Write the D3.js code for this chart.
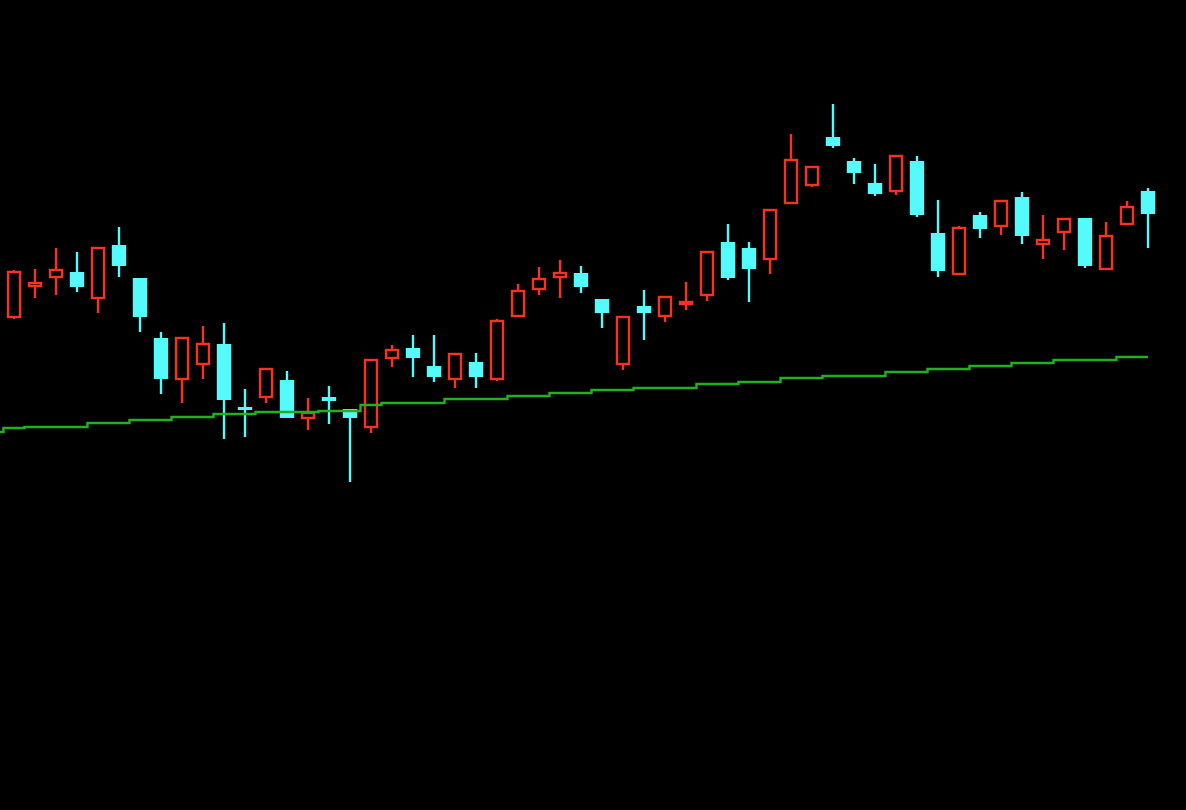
<!DOCTYPE html>
<html>
<head>
<meta charset="utf-8">
<script src="https://cdn.jsdelivr.net/npm/d3@7"></script>
<style>
html,body{margin:0;padding:0;background:#000;}
svg{display:block;}
</style>
</head>
<body>
<svg id="chart" width="1186" height="810"></svg>
<script>
// Candle data (index-based sessions)
const opens  = [14.15,15.70,16.15,16.40,15.10,17.75,16.10,13.10,11.05,11.80,12.80,9.65,10.15,11.00,9.10,10.15,9.55,8.65,12.10,12.60,11.70,11.05,11.90,11.05,14.20,15.55,16.15,16.35,15.05,11.80,14.70,14.20,14.80,15.25,17.90,17.60,17.05,19.85,20.75,23.15,21.95,20.85,20.45,21.95,18.35,16.30,19.25,18.70,20.15,17.80,18.40,19.10,16.55,18.80,20.45];
const highs  = [16.50,16.55,17.60,17.40,17.60,18.65,16.10,13.40,13.10,13.70,13.85,10.55,11.55,11.45,10.10,10.70,9.55,12.00,12.75,13.25,13.25,12.30,12.35,14.05,15.80,16.65,17.00,16.70,15.05,14.15,15.50,15.15,15.90,17.40,18.80,17.90,19.50,23.30,21.70,24.80,22.10,21.80,22.20,22.20,20.00,18.70,19.40,19.95,20.40,19.25,19.05,19.10,18.90,19.95,20.60];
const lows   = [14.05,15.10,15.25,15.40,14.35,16.15,13.40,10.30,9.85,11.05,8.05,8.15,9.85,9.10,8.50,8.80,5.90,8.35,11.65,11.15,10.90,10.60,10.60,10.95,14.20,15.25,15.10,15.35,13.60,11.50,13.00,13.90,14.50,14.95,16.00,14.90,16.30,19.80,20.65,22.60,20.80,20.20,20.25,19.15,16.15,16.30,18.10,18.25,17.80,17.05,17.50,16.60,16.55,18.75,17.60];
const closes = [16.40,15.85,16.50,15.65,17.60,16.70,14.15,11.05,13.10,12.80,10.00,9.50,11.55,9.10,9.35,9.95,9.10,12.00,12.50,12.10,11.15,12.30,11.15,13.95,15.45,16.05,16.35,15.65,14.35,14.15,14.35,15.15,14.90,17.40,16.10,16.55,19.50,22.00,21.65,22.70,21.35,20.30,22.20,19.25,16.45,18.60,18.55,19.95,18.20,18.00,19.05,16.70,18.20,19.65,19.30];
// Moving average line, starting one session before the first visible candle
const maStart = -1;
const maValues = [8.40,8.60,8.65,8.65,8.65,8.85,8.85,9.00,9.00,9.15,9.15,9.30,9.30,9.40,9.40,9.40,9.45,9.45,9.75,9.85,9.85,9.85,10.05,10.05,10.05,10.20,10.20,10.35,10.35,10.50,10.50,10.60,10.60,10.60,10.80,10.80,10.90,10.90,11.10,11.10,11.20,11.20,11.20,11.40,11.40,11.55,11.55,11.70,11.70,11.85,11.85,12.00,12.00,12.00,12.15,12.15];

const svg = d3.select("#chart");
svg.append("rect").attr("width",1186).attr("height",810).attr("fill","#000");

const x = d3.scaleLinear().domain([0, opens.length-1]).range([14, 1148]);
const y = d3.scaleLinear().domain([0, 30]).range([600, 0]);

const UP = "#f83222", DOWN = "#55fafa", MA = "#22b022";
const candles = opens.map((o,i)=>({i, o, h:highs[i], l:lows[i], c:closes[i]}));

const g = svg.append("g");
const cg = g.selectAll("g.c").data(candles).join("g").attr("class","c");

cg.each(function(d){
  const sel = d3.select(this);
  const up = d.c >= d.o;
  const col = up ? UP : DOWN;
  const top = Math.max(d.o,d.c), bot = Math.min(d.o,d.c);
  const cx = Math.round(x(d.i));
  if (up) {
    if (d.h > top) sel.append("line").attr("x1",cx).attr("x2",cx).attr("y1",y(d.h)).attr("y2",y(top)).attr("stroke",col).attr("stroke-width",2.4);
    if (d.l < bot) sel.append("line").attr("x1",cx).attr("x2",cx).attr("y1",y(bot)).attr("y2",y(d.l)).attr("stroke",col).attr("stroke-width",2.4);
    const h = Math.max(y(bot)-y(top), 2);
    sel.append("rect").attr("x",cx-6).attr("y",y(top)).attr("width",12).attr("height",h)
      .attr("fill","none").attr("stroke",col).attr("stroke-width",2.4);
  } else {
    sel.append("line").attr("x1",cx).attr("x2",cx).attr("y1",y(d.h)).attr("y2",y(d.l)).attr("stroke",col).attr("stroke-width",2.4);
    const h = Math.max(y(bot)-y(top), 3);
    sel.append("rect").attr("x",cx-7.2).attr("y",y(top)).attr("width",14.4).attr("height",h)
      .attr("fill",col);
  }
});

// MA line drawn above the candles
const maData = maValues.map((v,k)=>({i:k+maStart, v}));
svg.append("path")
  .datum(maData)
  .attr("fill","none")
  .attr("stroke",MA)
  .attr("stroke-width",2.4)
  .attr("d", d3.line().x(d=>x(d.i)).y(d=>y(d.v)).curve(d3.curveStep));
</script>
</body>
</html>
